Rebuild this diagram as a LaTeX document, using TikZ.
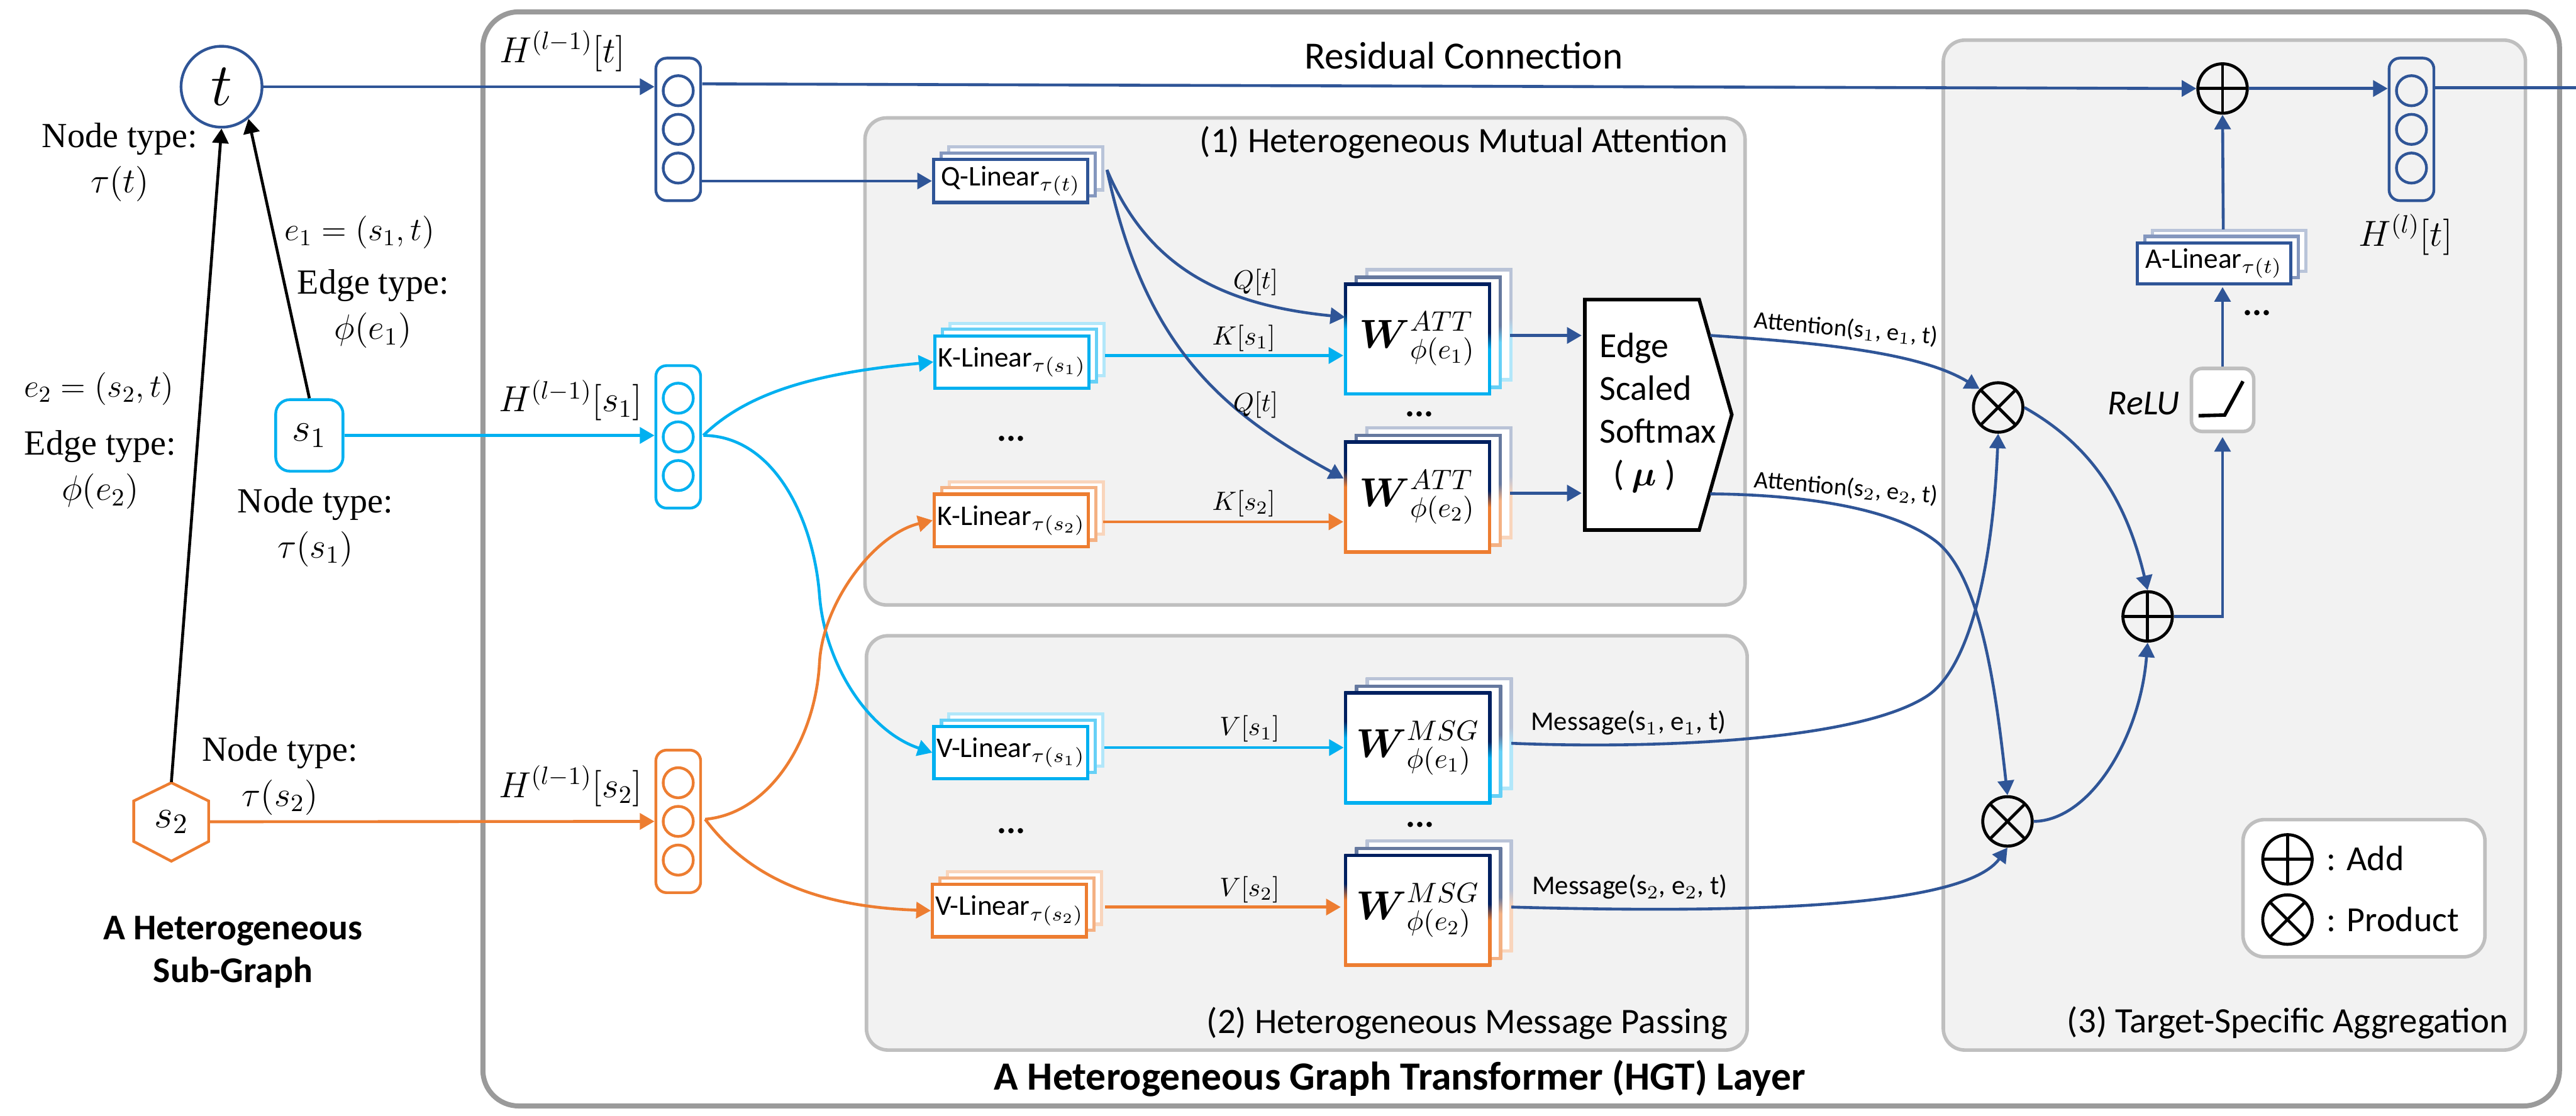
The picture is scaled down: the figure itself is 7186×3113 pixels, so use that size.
\documentclass[tikz,border=0pt]{standalone}
\usepackage{fix-cm}
\usepackage{amsmath,amssymb}
\usepackage[no-math]{fontspec}
\setmainfont{Carlito}
\newfontfamily\timesfont{Liberation Serif}
\usepackage{xcolor}
\usepackage{tikz}
\usetikzlibrary{arrows.meta}

\definecolor{blueFront}{HTML}{2F5597}
\definecolor{blueMid}{HTML}{8497BE}
\definecolor{blueBack}{HTML}{B9C4D9}
\definecolor{cyanFront}{HTML}{00B0F0}
\definecolor{cyanMid}{HTML}{66D0F6}
\definecolor{cyanBack}{HTML}{B2E7FA}
\definecolor{orangeFront}{HTML}{ED7D31}
\definecolor{orangeMid}{HTML}{F4B183}
\definecolor{orangeBack}{HTML}{F9D5BC}
\definecolor{navyFront}{HTML}{002060}
\definecolor{navyMid}{HTML}{66799F}
\definecolor{navyBack}{HTML}{B9C3D7}
\definecolor{frameGray}{HTML}{9A9A9A}
\definecolor{panelGray}{HTML}{BFBFBF}
\definecolor{panelFill}{HTML}{F2F2F2}

\pgfdeclareverticalshading{cyanFrontW}{100bp}{color(0bp)=(cyanFront); color(50bp)=(cyanFront); color(57bp)=(navyFront); color(100bp)=(navyFront)}
\pgfdeclareverticalshading{cyanMidW}{100bp}{color(0bp)=(cyanMid); color(50bp)=(cyanMid); color(57bp)=(navyMid); color(100bp)=(navyMid)}
\pgfdeclareverticalshading{cyanBackW}{100bp}{color(0bp)=(cyanBack); color(50bp)=(cyanBack); color(57bp)=(navyBack); color(100bp)=(navyBack)}
\pgfdeclareverticalshading{orangeFrontW}{100bp}{color(0bp)=(orangeFront); color(50bp)=(orangeFront); color(57bp)=(navyFront); color(100bp)=(navyFront)}
\pgfdeclareverticalshading{orangeMidW}{100bp}{color(0bp)=(orangeMid); color(50bp)=(orangeMid); color(57bp)=(navyMid); color(100bp)=(navyMid)}
\pgfdeclareverticalshading{orangeBackW}{100bp}{color(0bp)=(orangeBack); color(50bp)=(orangeBack); color(57bp)=(navyBack); color(100bp)=(navyBack)}

\newcommand{\fs}[1]{\fontsize{#1}{17}\selectfont}

\tikzset{
    every node/.style={inner sep=0pt},
    conn/.style={-{Triangle[length=5.8pt,width=6.4pt]},line width=1.15pt},
    plainline/.style={line width=1.15pt},
    framebox/.style={draw=frameGray,line width=2pt,rounded corners=0.5cm},
    panel/.style={draw=panelGray,fill=panelFill,line width=1.4pt,rounded corners=0.3cm},
    legendbox/.style={draw=panelGray,fill=white,line width=1.4pt,rounded corners=0.3cm},
    serifnote/.style={font=\fs{14}\timesfont,align=center},
    mathnote/.style={font=\fs{14.4}},
    edgenote/.style={font=\fs{10.5}},
    seclabel/.style={font=\fs{14.2},anchor=east},
    smallnote/.style={font=\fs{10.7}},
    attnote/.style={font=\fs{9.7},rotate=-5},
    dotsnote/.style={font=\fs{14}\bfseries},
    unitcircle/.style={circle,draw,line width=1.1pt,minimum size=0.42cm},
    unitbox/.style={draw,rounded corners=0.15cm,line width=1.1pt,minimum width=0.625cm,minimum height=1.99cm},
    linlayer/.style={draw,fill=white,line width=1.3pt},
    wlayer/.style={shade,shading angle=-8,minimum width=2.055cm,minimum height=1.575cm},
    winner/.style={fill=white,minimum width=1.965cm,minimum height=1.485cm},
    addnode/.style={circle,draw=black,line width=1.2pt,minimum size=0.69cm,
        path picture={\draw[line width=1.2pt] (path picture bounding box.north) -- (path picture bounding box.south)
            (path picture bounding box.west) -- (path picture bounding box.east);}},
    prodnode/.style={circle,draw=black,line width=1.2pt,minimum size=0.69cm,
        path picture={\draw[line width=1.2pt] (path picture bounding box.north west) -- (path picture bounding box.south east)
            (path picture bounding box.north east) -- (path picture bounding box.south west);}},
}

% three stacked unit circles in a rounded box
\newcommand{\unitstack}[3]{
    \node[unitbox,draw=#3] (#1) at (#2) {};
    \node[unitcircle,draw=#3,yshift=0.54cm] (#1a) at (#2) {};
    \node[unitcircle,draw=#3] (#1b) at (#2) {};
    \node[unitcircle,draw=#3,yshift=-0.54cm] (#1c) at (#2) {};
}
% name, centre, width, height, colour prefix, text
\newcommand{\linstack}[6]{
    \node[linlayer,draw=#5Back,minimum width=#3,minimum height=#4,xshift=0.21cm,yshift=0.175cm] (#1back) at (#2) {};
    \node[linlayer,draw=#5Mid,minimum width=#3,minimum height=#4,xshift=0.105cm,yshift=0.09cm] (#1mid) at (#2) {};
    \node[linlayer,draw=#5Front,minimum width=#3,minimum height=#4,font=\fs{11.3}] (#1) at (#2) {#6};
}
% name, centre, shading prefix, text
\newcommand{\wstack}[4]{
    \node[wlayer,shading=#3BackW,xshift=0.3cm,yshift=0.2cm] (#1back) at (#2) {};
    \node[winner,xshift=0.3cm,yshift=0.2cm] (#1backin) at (#2) {};
    \node[wlayer,shading=#3MidW,xshift=0.15cm,yshift=0.095cm] (#1mid) at (#2) {};
    \node[winner,xshift=0.15cm,yshift=0.095cm] (#1midin) at (#2) {};
    \node[wlayer,shading=#3FrontW] (#1) at (#2) {};
    \node[winner,font=\fs{16}] (#1in) at (#2) {#4};
}

\begin{document}
\begin{tikzpicture}[x=0.005cm,y=-0.005cm]
    \useasboundingbox (0,0) rectangle (7186,3113);

    % Layer frame and panels
    \draw[framebox] (1347,33) rectangle (7140,3086);
    \draw[panel] (2413,329) rectangle (4868,1688);
    \draw[panel] (2417,1774) rectangle (4874,2930);
    \draw[panel] (5421,112) rectangle (7045,2930);
    \draw[legendbox] (6257,2287) rectangle (6932,2670);

    % Sub-graph
    \node[circle,draw=blueFront,line width=1.1pt,minimum size=1.13cm,font=\fs{24}] (tNode) at (618,242) {$t$};
    \node[draw=cyanFront,line width=1.1pt,rounded corners=0.2cm,minimum width=0.94cm,minimum height=1cm,font=\fs{16}] (sOne) at (863,1215) {$s_1$};
    \node[minimum width=1.045cm,minimum height=1.095cm,font=\fs{16}] (sTwo) at (478,2293) {$s_2$};
    \draw[draw=orangeFront,line width=1.1pt] (478,2184) -- (582,2235) -- (582,2348) -- (478,2403) -- (373,2348) -- (373,2235) -- cycle;

    \node[serifnote] (typeT) at (334,452) {Node type:\\[1pt]$\tau(t)$};
    \node[font=\fs{13}] (edgeOne) at (1003,648) {$e_1=(s_1,t)$};
    \node[serifnote] (typeEOne) at (1041,862) {Edge type:\\[1pt]$\phi(e_1)$};
    \node[font=\fs{13}] (edgeTwo) at (276,1085) {$e_2=(s_2,t)$};
    \node[serifnote] (typeETwo) at (280,1311) {Edge type:\\[1pt]$\phi(e_2)$};
    \node[serifnote] (typeSOne) at (880,1472) {Node type:\\[1pt]$\tau(s_1)$};
    \node[serifnote] (typeSTwo) at (781,2165) {Node type:\\[1pt]$\tau(s_2)$};
    \node[font=\fs{14.4}\bfseries,align=center] (subTitle) at (650,2656) {A Heterogeneous\\Sub-Graph};

    \draw[conn] (sOne.north) -- (tNode.-50);
    \draw[conn] (sTwo.north) -- (tNode.south);

    % Input and output vectors
    \unitstack{hT}{1892,361}{blueFront}
    \unitstack{hSOne}{1892,1219}{cyanFront}
    \unitstack{hSTwo}{1892,2292}{orangeFront}
    \unitstack{hOut}{6727,361}{blueFront}
    \node[mathnote] (hTLabel) at (1569,143) {$H^{(l-1)}[t]$};
    \node[mathnote] (hSOneLabel) at (1592,1117) {$H^{(l-1)}[s_1]$};
    \node[mathnote] (hSTwoLabel) at (1592,2194) {$H^{(l-1)}[s_2]$};
    \node[mathnote] (hOutLabel) at (6711,655) {$H^{(l)}[t]$};
    \node[font=\fs{15.3}] (resLabel) at (4083,156) {Residual Connection};

    \draw[conn,blueFront] (tNode.east) -- (tNode.east -| hT.west);
    \draw[conn,cyanFront] (sOne.east) -- (sOne.east -| hSOne.west);
    \draw[conn,orangeFront] (sTwo.east) -- (hSTwo.west);

    % (1) Mutual attention
    \node[seclabel] (secOne) at (4821,398) {(1) Heterogeneous Mutual Attention};
    \linstack{qLin}{2819,505}{2.15cm}{0.6cm}{blue}{Q-Linear$_{\tau(t)}$}
    \linstack{kOne}{2823,1010}{2.15cm}{0.73cm}{cyan}{K-Linear$_{\tau(s_1)}$}
    \linstack{kTwo}{2821,1452}{2.15cm}{0.73cm}{orange}{K-Linear$_{\tau(s_2)}$}
    \node[dotsnote] (kDots) at (2821,1224) {...};
    \wstack{wAttOne}{3954,946}{cyan}{$\boldsymbol{W}^{ATT}_{\phi(e_1)}$}
    \wstack{wAttTwo}{3954,1387}{orange}{$\boldsymbol{W}^{ATT}_{\phi(e_2)}$}
    \node[dotsnote] (wAttDots) at (3959,1155) {...};

    \draw[draw=black,fill=white,line width=1.4pt] (4421,836) -- (4740,836) -- (4831,1157) -- (4740,1479) -- (4421,1479) -- cycle;
    \node[font=\fs{14},align=left,anchor=west] (softmax) at (4461,1152) {Edge\\Scaled\\Softmax\\\hspace*{0.19cm}( $\boldsymbol{\mu}$ )};

    \coordinate (qOut) at (3088,474);
    \coordinate (kOneOut) at (3083,992);
    \coordinate (kTwoOut) at (3077,1456);
    \coordinate (wAttOneOut) at (4212,936);
    \coordinate (wAttTwoOut) at (4212,1376);
    \coordinate (softInOne) at (4412,936);
    \coordinate (softInTwo) at (4412,1376);
    \coordinate (softOutOne) at (4771,936);
    \coordinate (softOutTwo) at (4771,1378);
    \coordinate (wAttOneIn) at (3752,885);
    \coordinate (wAttTwoIn) at (3748,1335);

    \draw[conn,blueFront] (hT.east |- qLin.west) -- (qLin.west);
    \draw[conn,cyanFront] (kOneOut) -- (kOneOut -| wAttOne.west);
    \draw[conn,orangeFront] (kTwoOut) -- (kTwoOut -| wAttTwo.west);
    \draw[conn,blueFront] (qOut) .. controls (3200,740) and (3400,850) .. (wAttOneIn);
    \draw[conn,blueFront] (qOut) .. controls (3190,950) and (3390,1140) .. (wAttTwoIn);
    \draw[conn,blueFront] (wAttOneOut) -- (softInOne);
    \draw[conn,blueFront] (wAttTwoOut) -- (softInTwo);
    \node[edgenote] (qOneLabel) at (3503,787) {$Q[t]$};
    \node[edgenote] (kOneLabel) at (3470,943) {$K[s_1]$};
    \node[edgenote] (qTwoLabel) at (3503,1129) {$Q[t]$};
    \node[edgenote] (kTwoLabel) at (3470,1405) {$K[s_2]$};

    % (2) Message passing
    \node[seclabel] (secTwo) at (4821,2855) {(2) Heterogeneous Message Passing};
    \linstack{vOne}{2820,2100}{2.15cm}{0.73cm}{cyan}{V-Linear$_{\tau(s_1)}$}
    \linstack{vTwo}{2816,2541}{2.15cm}{0.73cm}{orange}{V-Linear$_{\tau(s_2)}$}
    \node[dotsnote] (vDots) at (2821,2319) {...};
    \wstack{wMsgOne}{3955,2087}{cyan}{$\boldsymbol{W}^{MSG}_{\phi(e_1)}$}
    \wstack{wMsgTwo}{3955,2540}{orange}{$\boldsymbol{W}^{MSG}_{\phi(e_2)}$}
    \node[dotsnote] (wMsgDots) at (3962,2301) {...};

    \coordinate (vOneOut) at (3080,2086);
    \coordinate (vTwoOut) at (3083,2531);
    \coordinate (vTwoIn) at (3740,2531);
    \coordinate (wMsgOneOut) at (4216,2074);
    \coordinate (wMsgTwoOut) at (4216,2531);

    \draw[conn,cyanFront] (vOneOut) -- (vOneOut -| wMsgOne.west);
    \draw[conn,orangeFront] (vTwoOut) -- (vTwoIn);
    \node[edgenote] (vOneLabel) at (3486,2034) {$V[s_1]$};
    \node[edgenote] (vTwoLabel) at (3486,2482) {$V[s_2]$};
    \node[smallnote] (msgOneLabel) at (4543,2017) {Message(s$_1$, e$_1$, t)};
    \node[smallnote] (msgTwoLabel) at (4546,2475) {Message(s$_2$, e$_2$, t)};

    % Keys and values out of the source vectors
    \coordinate (hSOneOut) at (1962,1215);
    \coordinate (hSTwoOut) at (1967,2286);
    \draw[conn,cyanFront] (hSOneOut) .. controls (2090,1090) and (2290,1040) .. (kOne.west);
    \draw[conn,cyanFront] (hSOneOut) .. controls (2160,1216) and (2270,1450) .. (2286,1660) .. controls (2300,1850) and (2420,2040) .. (vOne.west);
    \draw[conn,orangeFront] (hSTwoOut) .. controls (2150,2270) and (2275,2060) .. (2286,1850) .. controls (2295,1680) and (2440,1490) .. (kTwo.west);
    \draw[conn,orangeFront] (hSTwoOut) .. controls (2090,2450) and (2280,2530) .. (vTwo.west);

    % (3) Aggregation
    \node[seclabel] (secThree) at (6998,2853) {(3) Target-Specific Aggregation};
    \node[addnode] (addTop) at (6200,247) {};
    \node[addnode] (addMid) at (5991,1720) {};
    \node[prodnode] (prodOne) at (5574,1137) {};
    \node[prodnode] (prodTwo) at (5600,2292) {};
    \linstack{aLin}{6176,735}{2.14cm}{0.575cm}{blue}{A-Linear$_{\tau(t)}$}
    \node[draw=panelGray,fill=white,line width=1.4pt,rounded corners=0.15cm,minimum width=0.87cm,minimum height=0.88cm] (relu) at (6200,1116) {};
    \draw[line width=1.4pt] (6133,1160) -- (6206,1158) -- (6257,1064);
    \node[font=\fs{14}\itshape] (reluLabel) at (5980,1125) {ReLU};
    \node[dotsnote] (aDots) at (6297,873) {...};

    \coordinate (resStart) at (1959,234);
    \coordinate (aOut) at (6202,640);
    \coordinate (hOutEnd) at (7186,245);
    \draw[conn,blueFront] (resStart) -- (addTop.west);
    \draw[conn,blueFront] (addTop.east) -- (addTop.east -| hOut.west);
    \draw[plainline,blueFront] (hOut.east |- hOutEnd) -- (hOutEnd);
    \draw[conn,blueFront] (aOut) -- (addTop.south);
    \draw[conn,blueFront] (relu.north) -- ([yshift=-0.02cm]aLin.south -| relu.north);
    \draw[conn,blueFront,shorten >=1.5pt] (addMid.east) -| (relu.south);

    \draw[conn,blueFront] (softOutOne) .. controls (5050,955) and (5350,980) .. (prodOne.north west);
    \draw[conn,blueFront] (softOutTwo) .. controls (5000,1380) and (5270,1410) .. (5400,1510) .. controls (5530,1610) and (5570,1950) .. (prodTwo.north);
    \draw[conn,blueFront] (wMsgOneOut) .. controls (4600,2090) and (5180,2070) .. (5376,1942) .. controls (5500,1860) and (5560,1560) .. (prodOne.south);
    \draw[conn,blueFront] (wMsgTwoOut) .. controls (4900,2550) and (5480,2530) .. (prodTwo.south);
    \draw[conn,blueFront] (prodOne.east) .. controls (5830,1240) and (5930,1390) .. (addMid.north);
    \draw[conn,blueFront] (prodTwo.east) .. controls (5830,2290) and (5970,2060) .. (addMid.south);

    \node[attnote] (attOneLabel) at (5150,918) {Attention(s$_1$, e$_1$, t)};
    \node[attnote] (attTwoLabel) at (5150,1362) {Attention(s$_2$, e$_2$, t)};

    % Legend
    \node[addnode] (addKey) at (6381,2398) {};
    \node[prodnode] (prodKey) at (6381,2566) {};
    \node[font=\fs{14},anchor=west] (addKeyLabel) at (6489,2395) {: Add};
    \node[font=\fs{14},anchor=west] (prodKeyLabel) at (6489,2565) {: Product};

    % Layer title
    \node[font=\fs{15.9}\bfseries] (layerTitle) at (3905,3009) {A Heterogeneous Graph Transformer (HGT) Layer};
\end{tikzpicture}
\end{document}
